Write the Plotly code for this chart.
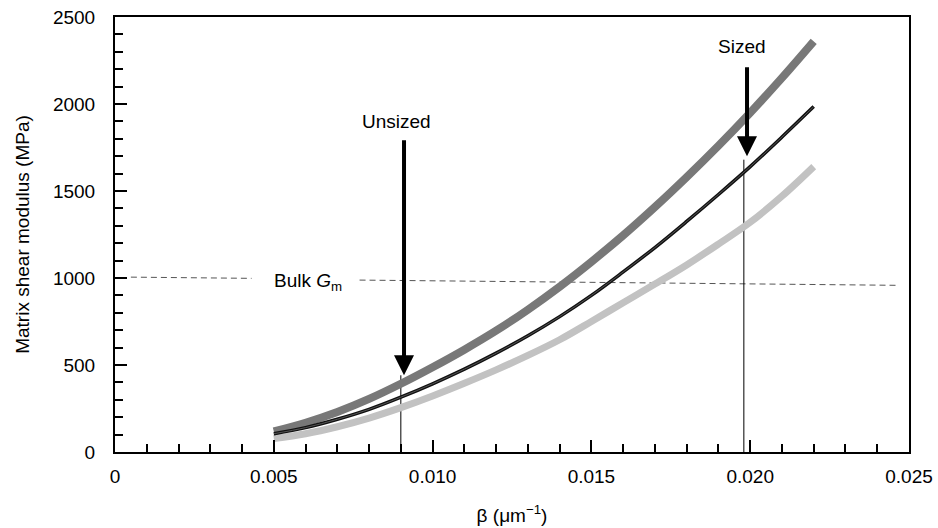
import plotly.graph_objects as go

beta = [0.005, 0.006, 0.007, 0.008, 0.009, 0.010, 0.011, 0.012, 0.013,
        0.014, 0.015, 0.016, 0.017, 0.018, 0.019, 0.020, 0.021, 0.022]
upper_gray = [118, 168, 230, 305, 392, 487, 588, 697, 818, 950, 1093, 1245,
              1408, 1580, 1760, 1950, 2150, 2360]
middle_black = [105, 140, 188, 245, 315, 392, 476, 568, 668, 778, 900, 1035,
                1175, 1325, 1480, 1640, 1810, 1985]
lower_lightgray = [78, 105, 145, 195, 255, 322, 395, 472, 555, 645, 750, 858,
                   965, 1075, 1195, 1320, 1470, 1640]

bulk_x1 = [0.0005, 0.0043]
bulk_y1 = [1005, 998]
bulk_x2 = [0.0077, 0.0246]
bulk_y2 = [988, 958]

unsized_x = 0.009
unsized_arrow = [1800, 441]
sized_x = 0.0198
sized_arrow = [2220, 1700]

x_tickvals = [0, 0.005, 0.010, 0.015, 0.020, 0.025]
x_ticktext = ["0", "0.005", "0.010", "0.015", "0.020", "0.025"]
y_tickvals = [0, 500, 1000, 1500, 2000, 2500]
y_ticktext = ["0", "500", "1000", "1500", "2000", "2500"]

FONT = "Liberation Sans, Arial, sans-serif"
FS = 19

fig = go.Figure()

# Bulk Gm dashed reference
for xs, ys in [(bulk_x1, bulk_y1), (bulk_x2, bulk_y2)]:
    fig.add_trace(go.Scatter(x=xs, y=ys, mode="lines",
                             line=dict(color="#555555", width=1, dash="6px,4px"),
                             showlegend=False, hoverinfo="skip"))

# thin vertical lines below arrows
fig.add_trace(go.Scatter(x=[unsized_x, unsized_x], y=[0, unsized_arrow[1]], mode="lines",
                         line=dict(color="black", width=1), showlegend=False))
fig.add_trace(go.Scatter(x=[sized_x, sized_x], y=[0, sized_arrow[1] - 20], mode="lines",
                         line=dict(color="black", width=1), showlegend=False))

fig.add_trace(go.Scatter(x=beta, y=lower_lightgray, mode="lines",
                         line=dict(color="#c2c2c2", width=7, shape="spline"),
                         showlegend=False))
fig.add_trace(go.Scatter(x=beta, y=upper_gray, mode="lines",
                         line=dict(color="#787878", width=8, shape="spline"),
                         showlegend=False))
fig.add_trace(go.Scatter(x=beta, y=middle_black, mode="lines",
                         line=dict(color="#111111", width=3.5, shape="spline"),
                         showlegend=False))
fig.add_trace(go.Scatter(x=beta, y=middle_black, mode="lines",
                         line=dict(color="#666666", width=0.8, shape="spline"),
                         showlegend=False))

annotations = [
    dict(x=unsized_x + 0.0001, y=unsized_arrow[1], ax=unsized_x + 0.0001, ay=unsized_arrow[0],
         xref="x", yref="y", axref="x", ayref="y", text="", showarrow=True,
         arrowhead=2, arrowsize=1.0, arrowwidth=4, arrowcolor="black"),
    dict(x=sized_x + 0.0001, y=sized_arrow[1], ax=sized_x + 0.0001, ay=sized_arrow[0],
         xref="x", yref="y", axref="x", ayref="y", text="", showarrow=True,
         arrowhead=2, arrowsize=1.0, arrowwidth=4, arrowcolor="black"),
    dict(x=0.00887, y=1902, xref="x", yref="y", text="Unsized", showarrow=False,
         font=dict(family=FONT, size=FS, color="black")),
    dict(x=0.01973, y=2330, xref="x", yref="y", text="Sized", showarrow=False,
         font=dict(family=FONT, size=FS, color="black")),
    dict(x=0.00494, y=975, xref="x", yref="y", text="Bulk <i>G</i><sub>m</sub>",
         showarrow=False, xanchor="left",
         font=dict(family=FONT, size=FS, color="black")),
]

fig.update_layout(
    width=938, height=528,
    margin=dict(l=115, r=29, t=17, b=76),
    paper_bgcolor="white", plot_bgcolor="white",
    font=dict(family=FONT, size=FS, color="black"),
    annotations=annotations,
    xaxis=dict(range=[0, 0.025], tickvals=x_tickvals, ticktext=x_ticktext,
               tickfont=dict(family=FONT, size=FS, color="black"),
               ticks="inside", ticklen=12, tickwidth=2, tickcolor="black",
               minor=dict(dtick=0.001, ticks="inside", ticklen=8, tickwidth=2, tickcolor="black"),
               showline=True, linewidth=2, linecolor="black", mirror=True,
               showgrid=False, zeroline=False, ticklabelstandoff=6, automargin=False,
               ticklabeloverflow="allow",
               title=dict(text="β (μm<sup>−1</sup>)", font=dict(family=FONT, size=FS), standoff=23)),
    yaxis=dict(range=[0, 2500], tickvals=y_tickvals, ticktext=y_ticktext,
               tickfont=dict(family=FONT, size=FS, color="black"),
               ticks="inside", ticklen=12, tickwidth=2, tickcolor="black",
               minor=dict(dtick=100, ticks="inside", ticklen=8, tickwidth=2, tickcolor="black"),
               showline=True, linewidth=2, linecolor="black", mirror=True,
               showgrid=False, zeroline=False, ticklabelstandoff=14, automargin=False,
               ticklabeloverflow="allow",
               title=dict(text="Matrix shear modulus (MPa)", font=dict(family=FONT, size=FS), standoff=18)),
)

fig.write_html("out.html", config={"displayModeBar": False},
               post_script="document.body.style.margin='0px';document.body.style.overflow='hidden';")
